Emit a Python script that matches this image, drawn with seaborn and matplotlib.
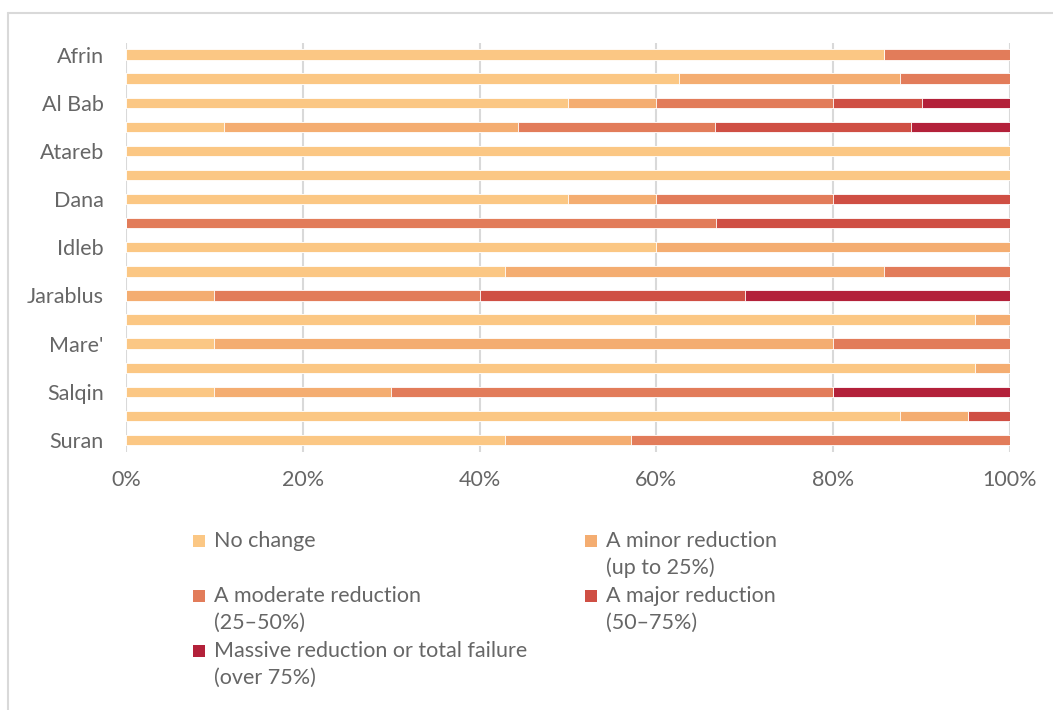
import matplotlib
matplotlib.use("Agg")
import matplotlib.pyplot as plt
from matplotlib.patches import Rectangle
from matplotlib.lines import Line2D
import numpy as np
import pandas as pd
import seaborn as sns

# Share of respondents per district (%), by level of reduction
tick_labels = ["Afrin", "", "Al Bab", "", "Atareb", "", "Dana", "", "Idleb", "",
               "Jarablus", "", "Mare'", "", "Salqin", "", "Suran"]
no_change = [85.7, 62.5, 50, 11.1, 100, 100, 50, 0, 60, 42.9, 0, 96, 10, 96, 10, 87.5, 42.9]
minor = [0, 25, 10, 33.3, 0, 0, 10, 0, 40, 42.9, 10, 4, 70, 4, 20, 7.8, 14.2]
moderate = [14.3, 12.5, 20, 22.2, 0, 0, 20, 66.7, 0, 14.2, 30, 0, 20, 0, 50, 0, 42.9]
major = [0, 0, 10, 22.2, 0, 0, 20, 33.3, 0, 0, 30, 0, 0, 0, 0, 4.7, 0]
massive = [0, 0, 10, 11.2, 0, 0, 0, 0, 0, 0, 30, 0, 0, 0, 20, 0, 0]

series_labels = ["No change", "A minor reduction\n(up to 25%)",
                 "A moderate reduction\n(25\u201350%)", "A major reduction\n(50\u201375%)",
                 "Massive reduction or total failure\n(over 75%)"]
colors = ["#FBC784", "#F4AD71", "#E27C5A", "#CF4F44", "#B3213A"]

sns.set_theme(style="white")
plt.rcParams["font.family"] = ["Lato", "DejaVu Sans"]
text_color = "#666666"
fs = 15.5

W, H = 1053, 710
fig = plt.figure(figsize=(W / 100, H / 100), dpi=100)
ax = fig.add_axes([126 / W, 1 - 452 / H, (1010 - 126) / W, (452 - 42.5) / H])

rows = [f"r{i:02d}" for i in range(len(tick_labels))]
df = pd.DataFrame({"row": rows, "s0": no_change, "s1": minor, "s2": moderate,
                   "s3": major, "s4": massive})
values = df[["s0", "s1", "s2", "s3", "s4"]].to_numpy()
cum = np.cumsum(values, axis=1)

# Layer cumulative totals from the longest to the shortest to build the stack
for k in range(4, -1, -1):
    sns.barplot(x=cum[:, k], y=df["row"], orient="h", color=colors[k],
                width=0.43, saturation=1, edgecolor="#ffffff", linewidth=0.6,
                ax=ax, zorder=3)

ax.set_xlim(0, 100)
ax.set_ylim(len(rows) - 0.5, -0.5)
ax.set_xticks(np.arange(0, 101, 20))
ax.set_xticklabels([f"{v}%" for v in range(0, 101, 20)])
ax.set_yticks(range(len(rows)))
ax.set_yticklabels(tick_labels)
ax.set_xlabel("")
ax.set_ylabel("")
ax.tick_params(axis="x", length=0, pad=13, labelsize=fs, labelcolor=text_color)
ax.tick_params(axis="y", length=0, pad=16, labelsize=fs, labelcolor=text_color)
ax.grid(axis="x", color="#D9D9D9", linewidth=1.5, zorder=0)
ax.grid(axis="y", visible=False)
for s in ax.spines.values():
    s.set_visible(False)

# Legend in two columns, markers aligned with the first text line
legend_slots = [(193, 541), (585, 541), (193, 596), (585, 596), (193, 651)]
for (px, py), lab, col in zip(legend_slots, series_labels, colors):
    fig.patches.append(Rectangle((px / W, 1 - (py + 6) / H), 12 / W, 12 / H,
                                 transform=fig.transFigure, facecolor=col,
                                 edgecolor="none"))
    for j, line in enumerate(lab.split("\n")):
        fig.text((px + 21) / W, 1 - (py + 27 * j) / H, line, fontsize=fs,
                 color=text_color, va="center", ha="left")

# Chart frame
fig.lines.append(Line2D([8 / W, 8 / W], [0, 1 - 13 / H], transform=fig.transFigure,
                        color="#D9D9D9", linewidth=1.5))
fig.lines.append(Line2D([8 / W, 1], [1 - 13 / H, 1 - 13 / H], transform=fig.transFigure,
                        color="#D9D9D9", linewidth=1.5))

fig.savefig("out.png", dpi=100, facecolor="white")
